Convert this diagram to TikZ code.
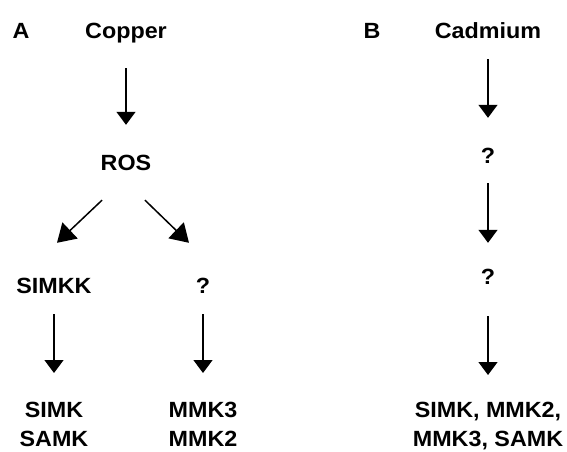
\documentclass[tikz,border=0pt]{standalone}
\usepackage{fontspec}
\setmainfont{Liberation Sans}[FakeStretch=1.06]
\usetikzlibrary{arrows.meta}
\tikzset{
  lbl/.style={font=\fontsize{22}{29}\selectfont\bfseries, inner sep=0pt, text height=16pt, text depth=0pt},
  lbltwo/.style={font=\fontsize{22}{29}\selectfont\bfseries, inner sep=0pt, align=center, anchor=north},
  arr/.style={line width=1.3pt, -{Triangle[length=13pt,width=19pt]}},
  arrbig/.style={line width=1.5pt, -{Triangle[length=18pt,width=22pt]}}
}
\begin{document}
\begin{tikzpicture}[x=1pt,y=-1pt]
\useasboundingbox (0,0) rectangle (567,451);

% panel A
\node[lbl] (pa) at (21,30) {A};
\node[lbl] (copper) at (126,30) {Copper};
\node[lbl] (ros) at (126,162) {ROS};
\node[lbl] (simkk) at (54,285) {SIMKK};
\node[lbl] (qa) at (203,285) {?};
\node[lbltwo] (simk) at (54,402) {SIMK\\SAMK};
\node[lbltwo] (mmk) at (203,402) {MMK3\\MMK2};

\draw[arr, shorten <=30pt, shorten >=29pt] (copper) -- (ros);
\draw[arrbig] ([shift={(-24,30)}]ros.south) -- ([shift={(3,-34)}]simkk.north);
\draw[arrbig] ([shift={(19,30)}]ros.south) -- ([shift={(-14,-34)}]qa.north);
\draw[arr, shorten <=21pt, shorten >=29pt] (simkk) -- (simk);
\draw[arr, shorten <=21pt, shorten >=29pt] (qa) -- (mmk);

% panel B
\node[lbl] (pb) at (372,30) {B};
\node[lbl] (cadmium) at (488,30) {Cadmium};
\node[lbl] (qb1) at (488,155) {?};
\node[lbl] (qb2) at (488,276) {?};
\node[lbltwo] (simkall) at (488,402) {SIMK, MMK2,\\MMK3, SAMK};

\draw[arr, shorten <=21pt, shorten >=29pt] (cadmium) -- (qb1);
\draw[arr, shorten <=20pt, shorten >=25pt] (qb1) -- (qb2);
\draw[arr, shorten <=32pt, shorten >=27pt] (qb2) -- (simkall);
\end{tikzpicture}
\end{document}
